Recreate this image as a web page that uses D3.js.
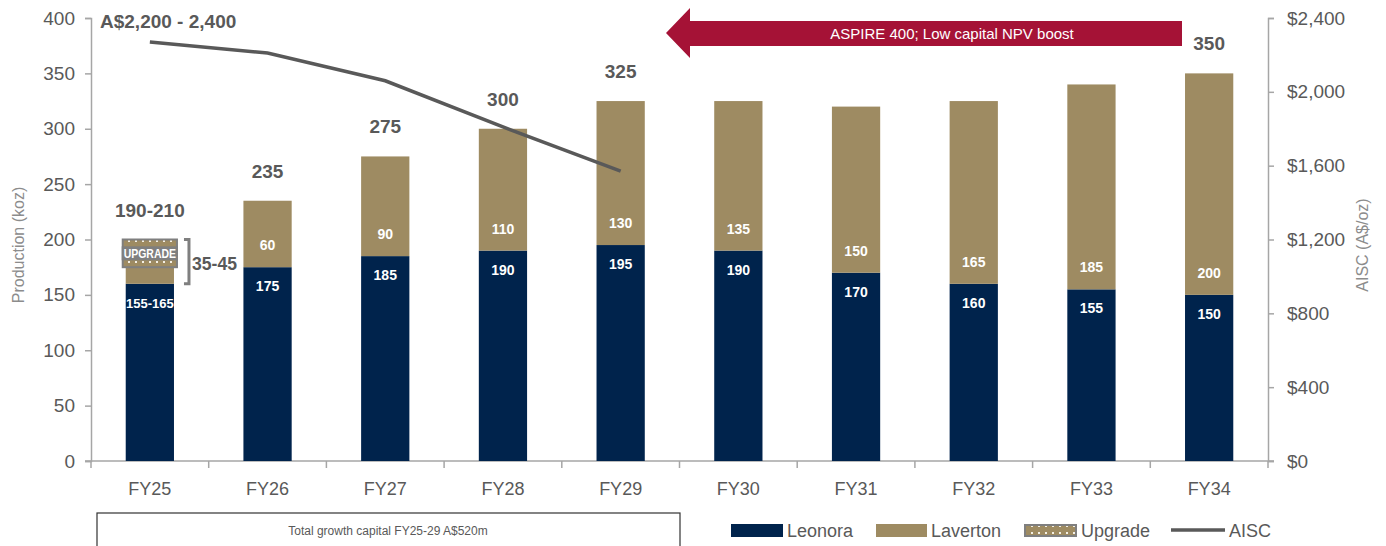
<!DOCTYPE html>
<html>
<head>
<meta charset="utf-8">
<script src="https://cdn.jsdelivr.net/npm/d3@7"></script>
<style>
  body { margin: 0; background: #fff; }
  svg text { font-family: "Liberation Sans Narrow", "Arial Narrow", "Liberation Sans", Arial, sans-serif; }
</style>
</head>
<body>
<div id="chart"></div>
<script>
const width = 1386;
const height = 546;
const margin = {top: 18, right: 118, bottom: 85, left: 91};

const years = ["FY25", "FY26", "FY27", "FY28", "FY29", "FY30", "FY31", "FY32", "FY33", "FY34"];
const leonora = [160, 175, 185, 190, 195, 190, 170, 160, 155, 150];
const laverton = [15, 60, 90, 110, 130, 135, 150, 165, 185, 200];
const upgrade = [25, 0, 0, 0, 0, 0, 0, 0, 0, 0];
const leonoraLabels = ["155-165", "175", "185", "190", "195", "190", "170", "160", "155", "150"];
const lavertonLabels = ["", "60", "90", "110", "130", "135", "150", "165", "185", "200"];
const totalLabels = ["190-210", "235", "275", "300", "325", "", "", "", "", "350"];
const aiscYears = ["FY25", "FY26", "FY27", "FY28", "FY29"];
const aisc = [2270, 2210, 2060, 1810, 1570];
const leftTicks = [0, 50, 100, 150, 200, 250, 300, 350, 400];
const rightTicks = [0, 400, 800, 1200, 1600, 2000, 2400];

const navy = "#00234c";
const tan = "#9e8b62";
const grey = "#595959";
const axisGrey = "#a6a6a6";

const svg = d3.select("#chart").append("svg")
    .attr("width", width)
    .attr("height", height);

const defs = svg.append("defs");
const pat = defs.append("pattern")
    .attr("id", "dots")
    .attr("patternUnits", "userSpaceOnUse")
    .attr("width", 7).attr("height", 7);
pat.append("rect").attr("width", 7).attr("height", 7).attr("fill", tan);
pat.append("rect").attr("x", 2).attr("y", 2).attr("width", 2).attr("height", 2).attr("fill", "#f4f0e6");

const x = d3.scaleBand().domain(years)
    .range([margin.left, width - margin.right])
    .paddingInner(0.59).paddingOuter(0.295);
const y = d3.scaleLinear().domain([0, 400]).range([height - margin.bottom, margin.top]);
const yR = d3.scaleLinear().domain([0, 2400]).range([height - margin.bottom, margin.top]);
const cx = d => x(d) + x.bandwidth() / 2;

// axes
const gl = svg.append("g")
    .attr("transform", "translate(" + margin.left + ",0)")
    .call(d3.axisLeft(y).tickValues(leftTicks).tickSize(6).tickPadding(10));
const gr = svg.append("g")
    .attr("transform", "translate(" + (width - margin.right) + ",0)")
    .call(d3.axisRight(yR).tickValues(rightTicks).tickSize(6).tickPadding(13)
        .tickFormat(d => "$" + d3.format(",")(d)));
[gl, gr].forEach(g => {
    g.select(".domain").attr("stroke", axisGrey).attr("stroke-width", 1.5);
    g.selectAll(".tick line").attr("stroke", axisGrey).attr("stroke-width", 1.5);
    g.selectAll(".tick text").attr("fill", grey).style("font-size", "19px");
});

// x axis line with tick marks at band boundaries
const base = y(0);
svg.append("line")
    .attr("x1", margin.left - 6).attr("x2", width - margin.right + 6)
    .attr("y1", base).attr("y2", base)
    .attr("stroke", axisGrey).attr("stroke-width", 1.5);
svg.selectAll(".xtick")
    .data(years.concat(["end"]))
    .enter().append("line")
    .attr("x1", (d, i) => margin.left + i * x.step())
    .attr("x2", (d, i) => margin.left + i * x.step())
    .attr("y1", base).attr("y2", base + 7)
    .attr("stroke", axisGrey).attr("stroke-width", 1.5);
svg.selectAll(".xlab")
    .data(years)
    .enter().append("text")
    .attr("x", d => cx(d))
    .attr("y", base + 34)
    .attr("text-anchor", "middle")
    .attr("fill", grey)
    .style("font-size", "18px")
    .text(d => d);

// axis titles
svg.append("text")
    .attr("transform", "translate(24,245) rotate(-90)")
    .attr("text-anchor", "middle")
    .attr("fill", "#8c8c8c")
    .style("font-size", "16px")
    .text("Production (koz)");
svg.append("text")
    .attr("transform", "translate(1368,245) rotate(-90)")
    .attr("text-anchor", "middle")
    .attr("fill", "#8c8c8c")
    .style("font-size", "16px")
    .text("AISC (A$/oz)");

// bars
const rows = years.map((yr, i) => ({yr, i, leo: leonora[i], lav: laverton[i], up: upgrade[i]}));
const bars = svg.append("g");
bars.selectAll(".leo").data(rows).enter().append("rect")
    .attr("x", d => x(d.yr)).attr("width", x.bandwidth())
    .attr("y", d => y(d.leo)).attr("height", d => y(0) - y(d.leo))
    .attr("fill", navy);
bars.selectAll(".lav").data(rows).enter().append("rect")
    .attr("x", d => x(d.yr)).attr("width", x.bandwidth())
    .attr("y", d => y(d.leo + d.lav)).attr("height", d => y(d.leo) - y(d.leo + d.lav))
    .attr("fill", tan);
const ups = rows.filter(d => d.up > 0);
bars.selectAll(".up").data(ups).enter().append("rect")
    .attr("x", d => x(d.yr) - 3).attr("width", x.bandwidth() + 6)
    .attr("y", d => y(d.leo + d.lav + d.up)).attr("height", d => y(d.leo + d.lav) - y(d.leo + d.lav + d.up))
    .attr("fill", "url(#dots)")
    .attr("stroke", "#7f7f7f").attr("stroke-width", 2);
ups.forEach(d => {
    const mid = y(d.leo + d.lav + d.up / 2);
    svg.append("rect")
        .attr("x", x(d.yr) - 4).attr("width", x.bandwidth() + 8)
        .attr("y", mid - 7).attr("height", 14)
        .attr("fill", "#7f7f7f");
    svg.append("text")
        .attr("x", cx(d.yr)).attr("y", mid + 4.5)
        .attr("text-anchor", "middle").attr("fill", "#fff")
        .style("font-size", "12px").style("font-weight", "bold")
        .attr("textLength", x.bandwidth() + 4).attr("lengthAdjust", "spacingAndGlyphs")
        .text("UPGRADE");
    // bracket for laverton + upgrade
    const top = y(d.leo + d.lav + d.up), bot = y(d.leo);
    const bx = x(d.yr) + x.bandwidth() + 15;
    svg.append("path")
        .attr("d", `M${bx - 5},${top} H${bx} V${bot} H${bx - 5}`)
        .attr("fill", "none").attr("stroke", "#7f7f7f").attr("stroke-width", 3);
    svg.append("text")
        .attr("x", bx + 3).attr("y", (top + bot) / 2 + 8)
        .attr("fill", grey)
        .style("font-size", "19px").style("font-weight", "bold")
        .attr("textLength", 45).attr("lengthAdjust", "spacingAndGlyphs")
        .text("35-45");
});

// segment labels
svg.selectAll(".leolab").data(rows).enter().append("text")
    .attr("x", d => cx(d.yr)).attr("y", d => y(d.leo) + 24)
    .attr("text-anchor", "middle").attr("fill", "#fff")
    .style("font-size", d => d.i === 0 ? "13px" : "14px").style("font-weight", "bold")
    .text(d => leonoraLabels[d.i]);
svg.selectAll(".lavlab").data(rows).enter().append("text")
    .attr("x", d => cx(d.yr)).attr("y", d => y(d.leo) - 17)
    .attr("text-anchor", "middle").attr("fill", "#fff")
    .style("font-size", "14px").style("font-weight", "bold")
    .text(d => lavertonLabels[d.i]);
svg.selectAll(".totlab").data(rows).enter().append("text")
    .attr("x", d => cx(d.yr)).attr("y", d => y(d.leo + d.lav + d.up) - 23)
    .attr("text-anchor", "middle").attr("fill", grey)
    .style("font-size", "19px").style("font-weight", "bold")
    .text(d => totalLabels[d.i]);

// AISC line
const line = d3.line().x((d, i) => cx(aiscYears[i])).y(d => yR(d));
svg.append("path")
    .datum(aisc)
    .attr("d", line)
    .attr("fill", "none")
    .attr("stroke", grey)
    .attr("stroke-width", 3.5);
svg.append("text")
    .attr("x", 100).attr("y", 28)
    .attr("fill", grey)
    .style("font-size", "19px").style("font-weight", "bold")
    .text("A$2,200 - 2,400");

// ASPIRE arrow
svg.append("path")
    .attr("d", "M666,33 L690,8 L690,21 L1182,21 L1182,46 L690,46 L690,58 Z")
    .attr("fill", "#a51236");
svg.append("text")
    .attr("x", 952).attr("y", 39)
    .attr("text-anchor", "middle").attr("fill", "#fff")
    .style("font-size", "15px")
    .text("ASPIRE 400; Low capital NPV boost");

// growth capital box
svg.append("rect")
    .attr("x", 97).attr("y", 513).attr("width", 583).attr("height", 60)
    .attr("fill", "none").attr("stroke", "#333").attr("stroke-width", 1.2);
svg.append("text")
    .attr("x", 388).attr("y", 535)
    .attr("text-anchor", "middle").attr("fill", grey)
    .style("font-size", "12px")
    .text("Total growth capital FY25-29 A$520m");

// legend
const legend = svg.append("g").attr("transform", "translate(0,530)");
const items = [
    {name: "Leonora", x: 731, w: 52, type: "rect", fill: navy},
    {name: "Laverton", x: 876, w: 51, type: "rect", fill: tan},
    {name: "Upgrade", x: 1024, w: 53, type: "pat"},
    {name: "AISC", x: 1171, w: 54, type: "line"}
];
items.forEach(it => {
    if (it.type === "rect") {
        legend.append("rect").attr("x", it.x).attr("y", -6).attr("width", it.w).attr("height", 13).attr("fill", it.fill);
    } else if (it.type === "pat") {
        legend.append("rect").attr("x", it.x + 1).attr("y", -5).attr("width", it.w - 2).attr("height", 11)
            .attr("fill", "url(#dots)").attr("stroke", "#7f7f7f").attr("stroke-width", 2);
    } else {
        legend.append("line").attr("x1", it.x).attr("x2", it.x + it.w).attr("y1", 0).attr("y2", 0)
            .attr("stroke", grey).attr("stroke-width", 3.5);
    }
    legend.append("text")
        .attr("x", it.x + it.w + 4).attr("y", 7)
        .attr("fill", grey)
        .style("font-size", "18px")
        .text(it.name);
});
</script>
</body>
</html>
